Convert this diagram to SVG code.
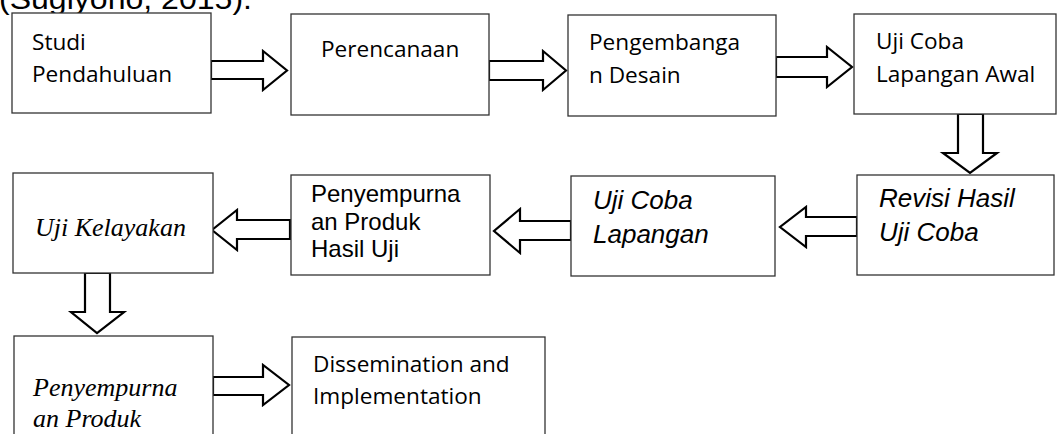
<svg xmlns="http://www.w3.org/2000/svg" width="1057" height="434" viewBox="0 0 1057 434">
<style>
.box{fill:#fff;stroke:#333;stroke-width:1.3}
.arr{fill:#fff;stroke:#000;stroke-width:2.2;stroke-linejoin:miter}
.cal{font-family:"Open Sans","Noto Sans",sans-serif;font-size:22.6px;fill:#000}
.ari{font-family:"Liberation Sans",Arial,sans-serif;font-size:24px;fill:#000}
.arii{font-family:"Liberation Sans",Arial,sans-serif;font-size:26px;font-style:italic;fill:#000}
.ser{font-family:"Liberation Serif","Times New Roman",serif;font-size:26px;font-style:italic;fill:#000}
</style>
<rect width="1057" height="434" fill="#fff"/>
<text x="-1" y="9" font-family="Liberation Sans, Arial, sans-serif" font-size="30" textLength="253" lengthAdjust="spacingAndGlyphs">(Sugiyono, 2015).</text>
<g id="connectors">
<polygon class="arr" points="211,61 263,61 263,51 287,70.5 263,90 263,79 211,79"/>
<polygon class="arr" points="489,61 543,61 543,51 566,70.5 543,90 543,80 489,80"/>
<polygon class="arr" points="776,57 827,57 827,47 852,67 827,87 827,77 776,77"/>
<polygon class="arr" points="958,114 958,153 943,153 970,173 997,153 983,153 983,114"/>
<polygon class="arr" points="857,217 806,217 806,207 780,227 806,247 806,236 857,236"/>
<polygon class="arr" points="571,221 520,221 520,209 494,231 520,253 520,240 571,240"/>
<polygon class="arr" points="290,220 237,220 237,210 212,230 237,250 237,239 290,239"/>
<polygon class="arr" points="85,273 85,312 71,312 97,333 124,312 110,312 110,273"/>
<polygon class="arr" points="213,377 263,377 263,365 289,385 263,405 263,395 213,395"/>
</g>
<g id="studi">
<rect class="box" x="12" y="13" width="199" height="100"/>
<text class="cal" x="32" y="50">Studi</text>
<text class="cal" x="32" y="82">Pendahuluan</text>
</g>
<g id="perencanaan">
<rect class="box" x="291" y="14" width="198" height="101"/>
<text class="cal" x="321" y="57">Perencanaan</text>
</g>
<g id="pengembangan">
<rect class="box" x="568" y="15" width="208" height="101"/>
<text class="cal" x="589" y="50">Pengembanga</text>
<text class="cal" x="589" y="83">n Desain</text>
</g>
<g id="ujicoba-awal">
<rect class="box" x="854" y="14" width="202" height="100"/>
<text class="cal" x="876" y="49">Uji Coba</text>
<text class="cal" x="876" y="82">Lapangan Awal</text>
</g>
<g id="revisi">
<rect class="box" x="857" y="175" width="197" height="100"/>
<text class="arii" x="879" y="207">Revisi Hasil</text>
<text class="arii" x="879" y="241">Uji Coba</text>
</g>
<g id="ujicoba-lapangan">
<rect class="box" x="571" y="176" width="204" height="100"/>
<text class="arii" x="593" y="209">Uji Coba</text>
<text class="arii" x="593" y="243">Lapangan</text>
</g>
<g id="penyempurnaan-hasil">
<rect class="box" x="291" y="175" width="199" height="100"/>
<text class="ari" x="311" y="202">Penyempurna</text>
<text class="ari" x="311" y="230">an Produk</text>
<text class="ari" x="311" y="257">Hasil Uji</text>
</g>
<g id="uji-kelayakan">
<rect class="box" x="13" y="173" width="200" height="100"/>
<text class="ser" x="35" y="236">Uji Kelayakan</text>
</g>
<g id="penyempurnaan-produk">
<rect class="box" x="14" y="336" width="199" height="120"/>
<text class="ser" x="33" y="396">Penyempurna</text>
<text class="ser" x="33" y="427">an Produk</text>
</g>
<g id="dissemination">
<rect class="box" x="292" y="337" width="253" height="120"/>
<text class="cal" x="313" y="372">Dissemination and</text>
<text class="cal" x="313" y="404">Implementation</text>
</g>
</svg>
